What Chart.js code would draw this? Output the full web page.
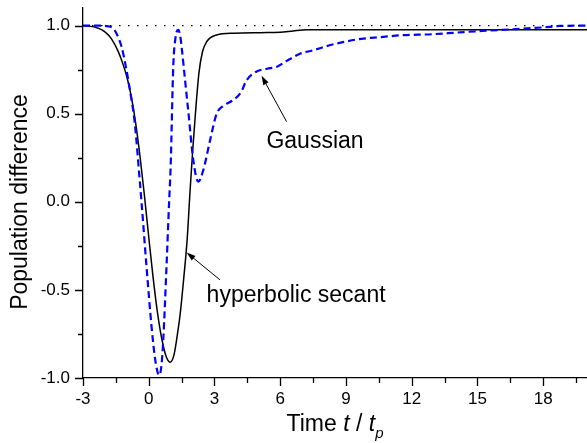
<!DOCTYPE html>
<html>
<head>
<meta charset="utf-8">
<script src="https://cdn.jsdelivr.net/npm/chart.js@4.4.1/dist/chart.umd.min.js"></script>
<style>
  html, body { margin: 0; padding: 0; background: #fff; }
  #wrap { width: 587px; height: 443px; }
</style>
</head>
<body>
<div id="wrap"><canvas id="chart"></canvas></div>
<script>
// time axis (t / tp) and population difference
const sechT = [-3, -2.5, -2.0, -1.7, -1.4, -1.2, -1.0, -0.8, -0.6, -0.4, -0.2, 0.0, 0.2, 0.4, 0.6, 0.8, 0.97, 1.15, 1.3, 1.45, 1.6, 1.75, 1.88, 2.0, 2.13, 2.29, 2.45, 2.65, 3.1, 3.9, 5.1, 6.0, 6.6, 7.2, 10, 14, 20];
const sechP = [1.0, 0.993, 0.965, 0.925, 0.855, 0.79, 0.71, 0.60, 0.45, 0.26, 0.04, -0.2, -0.43, -0.63, -0.78, -0.88, -0.91, -0.87, -0.76, -0.62, -0.43, -0.22, 0.05, 0.28, 0.5, 0.73, 0.85, 0.91, 0.947, 0.957, 0.96, 0.962, 0.97, 0.976, 0.976, 0.977, 0.977];

const gaussT = [-3, -2.2, -1.9, -1.63, -1.45, -1.24, -1.05, -0.86, -0.64, -0.41, -0.33, -0.1, 0.13, 0.3, 0.48, 0.58, 0.66, 0.81, 0.93, 1.0, 1.12, 1.22, 1.35, 1.45, 1.5, 1.65, 1.8, 2.03, 2.26, 2.49, 2.8, 3.1, 3.4, 3.86, 4.2, 4.47, 4.93, 5.4, 5.85, 6.3, 6.9, 7.5, 8.3, 9.0, 9.7, 10.6, 11.5, 12.9, 14, 15.2, 16.7, 18, 18.8, 20];
const gaussP = [1.0, 1.0, 0.997, 0.985, 0.95, 0.88, 0.77, 0.635, 0.45, 0.12, 0.0, -0.37, -0.71, -0.9, -0.985, -0.93, -0.79, -0.37, 0.0, 0.2, 0.77, 0.93, 0.976, 0.93, 0.88, 0.70, 0.52, 0.24, 0.114, 0.18, 0.35, 0.50, 0.544, 0.578, 0.62, 0.69, 0.74, 0.755, 0.767, 0.80, 0.84, 0.86, 0.89, 0.91, 0.925, 0.935, 0.945, 0.951, 0.96, 0.97, 0.98, 0.99, 0.998, 1.0];

const refT = [-3, 20];
const refP = [1, 1];

const xMajor = [-3, 0, 3, 6, 9, 12, 15, 18];
const xMinor = [-1.5, 1.5, 4.5, 7.5, 10.5, 13.5, 16.5, 19.5];
const yMajor = [-1, -0.5, 0, 0.5, 1];
const yMinor = [-0.75, -0.25, 0.25, 0.75];

// labels with arrows: [text, textX, textY, tailX, tailY, headX, headY]
const notes = [
    ['Gaussian', 5.37, 0.304, 6.29, 0.455, 5.15, 0.715],
    ['hyperbolic secant', 2.64, -0.566, 3.25, -0.443, 1.73, -0.288]
];

const FONT = '"Liberation Sans", Arial, Helvetica, sans-serif';

const toPts = (xs, ys) => xs.map((x, i) => ({ x: x, y: ys[i] }));

const decor = {
    id: 'decor',
    afterDraw(chart) {
        const ctx = chart.ctx;
        const xs = chart.scales.x;
        const ys = chart.scales.y;
        const area = chart.chartArea;
        ctx.save();
        ctx.strokeStyle = '#000';
        ctx.lineWidth = 1.3;

        // tick marks, outward
        ctx.beginPath();
        xMajor.forEach(v => { const p = Math.round(xs.getPixelForValue(v)) + 0.5; ctx.moveTo(p, area.bottom); ctx.lineTo(p, area.bottom + 8); });
        xMinor.forEach(v => { const p = Math.round(xs.getPixelForValue(v)) + 0.5; ctx.moveTo(p, area.bottom); ctx.lineTo(p, area.bottom + 5); });
        yMajor.forEach(v => { const p = Math.round(ys.getPixelForValue(v)) + 0.5; ctx.moveTo(area.left, p); ctx.lineTo(area.left - 8, p); });
        yMinor.forEach(v => { const p = Math.round(ys.getPixelForValue(v)) + 0.5; ctx.moveTo(area.left, p); ctx.lineTo(area.left - 5, p); });
        ctx.stroke();

        // annotations
        ctx.fillStyle = '#000';
        ctx.font = '23px ' + FONT;
        ctx.textBaseline = 'alphabetic';
        ctx.textAlign = 'left';
        ctx.lineWidth = 1;
        notes.forEach(n => {
            ctx.fillText(n[0], xs.getPixelForValue(n[1]), ys.getPixelForValue(n[2]));
            const x1 = xs.getPixelForValue(n[3]), y1 = ys.getPixelForValue(n[4]);
            const x2 = xs.getPixelForValue(n[5]), y2 = ys.getPixelForValue(n[6]);
            const a = Math.atan2(y2 - y1, x2 - x1);
            ctx.beginPath();
            ctx.moveTo(x1, y1);
            ctx.lineTo(x2 - 6 * Math.cos(a), y2 - 6 * Math.sin(a));
            ctx.stroke();
            ctx.beginPath();
            ctx.moveTo(x2, y2);
            ctx.lineTo(x2 - 9 * Math.cos(a) + 3 * Math.sin(a), y2 - 9 * Math.sin(a) - 3 * Math.cos(a));
            ctx.lineTo(x2 - 9 * Math.cos(a) - 3 * Math.sin(a), y2 - 9 * Math.sin(a) + 3 * Math.cos(a));
            ctx.closePath();
            ctx.fill();
        });

        // x title: Time t / t_p
        const parts = [
            ['Time ', 'normal', 23, 0],
            ['t', 'italic', 23, 0],
            [' / ', 'normal', 23, 0],
            ['t', 'italic', 23, 0],
            ['p', 'italic', 15, 7]
        ];
        let total = 0;
        parts.forEach(p => { ctx.font = p[1] + ' ' + p[2] + 'px ' + FONT; p.push(ctx.measureText(p[0]).width); total += p[4]; });
        let cx = (area.left + area.right) / 2 - total / 2;
        parts.forEach(p => {
            ctx.font = p[1] + ' ' + p[2] + 'px ' + FONT;
            ctx.fillText(p[0], cx, 431 + p[3]);
            cx += p[4];
        });

        // y title
        ctx.translate(27, 202);
        ctx.rotate(-Math.PI / 2);
        ctx.textAlign = 'center';
        ctx.font = '23px ' + FONT;
        ctx.fillText('Population difference', 0, 0);
        ctx.restore();
    }
};

new Chart(document.getElementById('chart'), {
    type: 'line',
    data: {
        datasets: [
            {
                label: 'reference',
                data: toPts(refT, refP),
                borderColor: '#000',
                borderWidth: 1.3,
                borderDash: [1.5, 7.5],
                pointRadius: 0
            },
            {
                label: 'Gaussian',
                data: toPts(gaussT, gaussP),
                borderColor: '#0000ff',
                borderWidth: 2.2,
                borderDash: [7, 4],
                pointRadius: 0,
                cubicInterpolationMode: 'monotone'
            },
            {
                label: 'hyperbolic secant',
                data: toPts(sechT, sechP),
                borderColor: '#000',
                borderWidth: 1.5,
                pointRadius: 0,
                cubicInterpolationMode: 'monotone'
            }
        ]
    },
    options: {
        responsive: true,
        maintainAspectRatio: false,
        animation: false,
        layout: { padding: { top: 8, right: 0, left: 0, bottom: 0 } },
        plugins: { legend: { display: false }, tooltip: { enabled: false } },
        scales: {
            x: {
                type: 'linear',
                min: -3,
                max: 20,
                afterBuildTicks: s => { s.ticks = xMajor.map(v => ({ value: v })); },
                afterFit: s => { s.height = 65; s.paddingLeft = 0; s.paddingRight = 0; },
                grid: { display: false, drawTicks: false },
                border: { display: true, color: '#000', width: 1.3 },
                ticks: {
                    color: '#000',
                    padding: 11,
                    maxRotation: 0,
                    font: { family: FONT, size: 17 },
                    callback: v => String(v)
                }
            },
            y: {
                min: -1,
                max: 1.1,
                afterBuildTicks: s => { s.ticks = yMajor.map(v => ({ value: v })); },
                afterFit: s => { s.width = 83; s.paddingTop = 0; s.paddingBottom = 0; },
                grid: { display: false, drawTicks: false },
                border: { display: true, color: '#000', width: 1.3 },
                ticks: {
                    color: '#000',
                    padding: 13,
                    font: { family: FONT, size: 17 },
                    callback: v => v.toFixed(1)
                }
            }
        }
    },
    plugins: [decor]
});
</script>
</body>
</html>
